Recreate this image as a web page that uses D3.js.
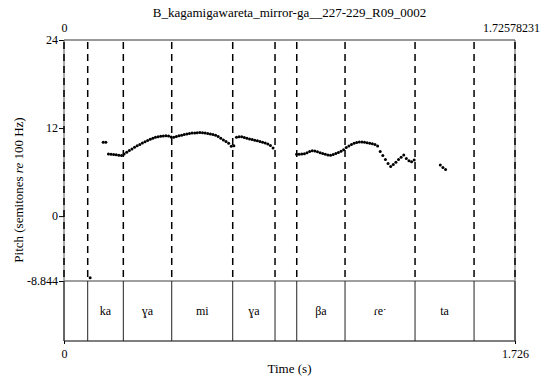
<!DOCTYPE html>
<html><head><meta charset="utf-8">
<script src="https://cdn.jsdelivr.net/npm/d3@7"></script>
<style>
html,body{margin:0;padding:0;background:#fff;}
svg{display:block;}
svg text{font-family:"Liberation Serif","Times New Roman",serif;}
</style></head>
<body><svg id="chart" width="550" height="383"></svg>
<script>
// ---------- data ----------
const chartTitle = "B_kagamigawareta_mirror-ga__227-229_R09_0002";
const timeMax = 1.72578231;
const yTickValues = [24, 12, 0, -8.844];
const yDomain = [-8.844, 24];
const topTickLabels = ["0", "1.72578231"];
const bottomTickLabels = ["0", "1.726"];
// interval boundaries of the text tier (s)
const boundaries = [0, 0.0907, 0.2270, 0.4122, 0.6456, 0.8075, 0.8906, 1.0754, 1.3433, 1.5691, 1.72578231];
const intervalLabels = ["", "ka", "ɣa", "mi", "ɣa", "", "βa", "ɾeˑ", "ta", ""];
// pitch points: time (s) and pitch (semitones re 100 Hz)
const pitchTimes = [
 0.10, 0.15, 0.16, 0.17, 0.18, 0.19, 0.20, 0.21, 0.22, 0.23, 0.24, 0.25, 0.26, 0.27, 0.28, 0.29,
 0.30, 0.31, 0.32, 0.33, 0.34, 0.35, 0.36, 0.37, 0.38, 0.39, 0.40, 0.41, 0.42, 0.43, 0.44, 0.45,
 0.46, 0.47, 0.48, 0.49, 0.50, 0.51, 0.52, 0.53, 0.54, 0.55, 0.56, 0.57, 0.58, 0.59, 0.60, 0.61,
 0.62, 0.63, 0.64, 0.65, 0.66, 0.67, 0.68, 0.69, 0.70, 0.71, 0.72, 0.73, 0.74, 0.75, 0.76, 0.77,
 0.78, 0.79, 0.80,
 0.89, 0.90, 0.91, 0.92, 0.93, 0.94, 0.95, 0.96, 0.97, 0.98, 0.99, 1.00, 1.01, 1.02, 1.03, 1.04,
 1.05, 1.06, 1.07, 1.08, 1.09, 1.10, 1.11, 1.12, 1.13, 1.14, 1.15, 1.16, 1.17, 1.18, 1.19, 1.20,
 1.21, 1.22, 1.23, 1.24, 1.25, 1.26, 1.27, 1.28, 1.29, 1.30, 1.31, 1.32, 1.33, 1.34,
 1.44, 1.45, 1.46
];
const pitchValues = [
 -8.39, 10.06, 10.06, 8.46, 8.42, 8.40, 8.36, 8.29, 8.26, 8.46, 8.70, 8.93, 9.15, 9.39, 9.58, 9.77,
 9.95, 10.13, 10.30, 10.47, 10.62, 10.74, 10.82, 10.88, 10.92, 10.94, 10.93, 10.79, 10.74, 10.85, 10.94, 11.03,
 11.11, 11.19, 11.26, 11.31, 11.34, 11.37, 11.38, 11.37, 11.31, 11.26, 11.19, 11.12, 11.01, 10.84, 10.60, 10.37,
 10.17, 9.92, 9.51, 9.58, 10.74, 10.81, 10.81, 10.71, 10.60, 10.51, 10.43, 10.34, 10.26, 10.17, 10.07, 9.96,
 9.83, 9.62, 9.28,
 8.42, 8.42, 8.46, 8.49, 8.63, 8.80, 8.90, 8.87, 8.76, 8.64, 8.52, 8.42, 8.33, 8.29, 8.40, 8.53,
 8.67, 8.83, 9.04, 9.35, 9.55, 9.76, 9.92, 10.03, 10.10, 10.10, 10.06, 10.00, 9.94, 9.87, 9.76, 9.55,
 8.80, 8.26, 7.71, 7.17, 6.76, 7.03, 7.33, 7.71, 8.01, 8.33, 7.85, 7.54, 7.41, 7.65,
 6.96, 6.62, 6.35
];

// ---------- layout ----------
const svg = d3.select("#chart");
const L = 64, R = 515, T = 40, TIER = 281, B = 341;
const x = d3.scaleLinear().domain([0, timeMax]).range([L, R]);
const y = d3.scaleLinear().domain(yDomain).range([TIER, T]);

function styleAxis(g) {
  g.attr("font-family", null).attr("font-size", null);
  g.select(".domain").remove();
  g.selectAll("text").attr("font-size", 12).attr("fill", "#000");
  g.selectAll("line").attr("stroke", "#000");
}

// title
svg.append("text").attr("x", (L + R) / 2).attr("y", 17)
  .attr("text-anchor", "middle").attr("font-size", 13).text(chartTitle);

// top labels
const topAxis = d3.axisTop(x).tickValues([0, timeMax]).tickSize(0).tickPadding(8)
  .tickFormat((d, i) => topTickLabels[i]);
const gTop = svg.append("g").attr("transform", `translate(0,${T})`).call(topAxis);
styleAxis(gTop);
gTop.selectAll(".tick").filter((d, i) => i === 1).select("text").attr("dx", -4);

// y axis
const yAxis = d3.axisLeft(y).tickValues(yTickValues).tickSize(5).tickPadding(1)
  .tickFormat(d => d === -8.844 ? "-8.844" : String(d));
const gY = svg.append("g").attr("transform", `translate(${L},0)`).call(yAxis);
styleAxis(gY);

// bottom axis
const bAxis = d3.axisBottom(x).tickValues([0, timeMax]).tickSize(3).tickPadding(5)
  .tickFormat((d, i) => bottomTickLabels[i]);
const gB = svg.append("g").attr("transform", `translate(0,${B})`).call(bAxis);
styleAxis(gB);

// frame
svg.append("line").attr("x1", L).attr("x2", R).attr("y1", T).attr("y2", T)
  .attr("stroke", "#333").attr("stroke-width", 1);
svg.append("line").attr("x1", L).attr("x2", R).attr("y1", B).attr("y2", B)
  .attr("stroke", "#000").attr("stroke-width", 1.2);
svg.append("line").attr("x1", L).attr("x2", L).attr("y1", T).attr("y2", B)
  .attr("stroke", "#555").attr("stroke-width", 1);
svg.append("line").attr("x1", R).attr("x2", R).attr("y1", T).attr("y2", B)
  .attr("stroke", "#555").attr("stroke-width", 1);

// tier separator (gray)
svg.append("line").attr("x1", L).attr("x2", R).attr("y1", y(-8.844)).attr("y2", y(-8.844))
  .attr("stroke", "#7f7f7f").attr("stroke-width", 1.5);

// boundaries: dashed above tier, solid inside tier
svg.append("g").selectAll("line.dash").data(boundaries).join("line")
  .attr("x1", d => x(d)).attr("x2", d => x(d)).attr("y1", T).attr("y2", TIER)
  .attr("stroke", "#000").attr("stroke-width", 1.5).attr("stroke-dasharray", "7,5")
  .attr("stroke-dashoffset", -2);
svg.append("g").selectAll("line.solid").data(boundaries).join("line")
  .attr("x1", d => x(d)).attr("x2", d => x(d)).attr("y1", TIER).attr("y2", B)
  .attr("stroke", "#222").attr("stroke-width", 1);

// interval labels
const intervals = intervalLabels.map((lab, i) => ({ lab, a: boundaries[i], b: boundaries[i + 1] }));
svg.append("g").selectAll("text").data(intervals.filter(d => d.lab)).join("text")
  .attr("x", d => (x(d.a) + x(d.b)) / 2).attr("y", 315)
  .attr("text-anchor", "middle").attr("font-size", 12).text(d => d.lab);

// pitch points
const pts = pitchTimes.map((t, i) => ({ t, v: pitchValues[i] }));
svg.append("g").selectAll("circle").data(pts).join("circle")
  .attr("cx", d => x(d.t)).attr("cy", d => y(d.v)).attr("r", 1.5).attr("fill", "#000");

// axis titles
svg.append("text").attr("x", (L + R) / 2).attr("y", 373)
  .attr("text-anchor", "middle").attr("font-size", 13).text("Time (s)");
const yl = svg.append("text").attr("transform", "translate(23,190) rotate(-90)")
  .attr("text-anchor", "middle").attr("font-size", 13);
yl.append("tspan").text("Pitch (semitones ");
yl.append("tspan").attr("font-style", "italic").text("re");
yl.append("tspan").text(" 100 Hz)");
</script></body></html>
